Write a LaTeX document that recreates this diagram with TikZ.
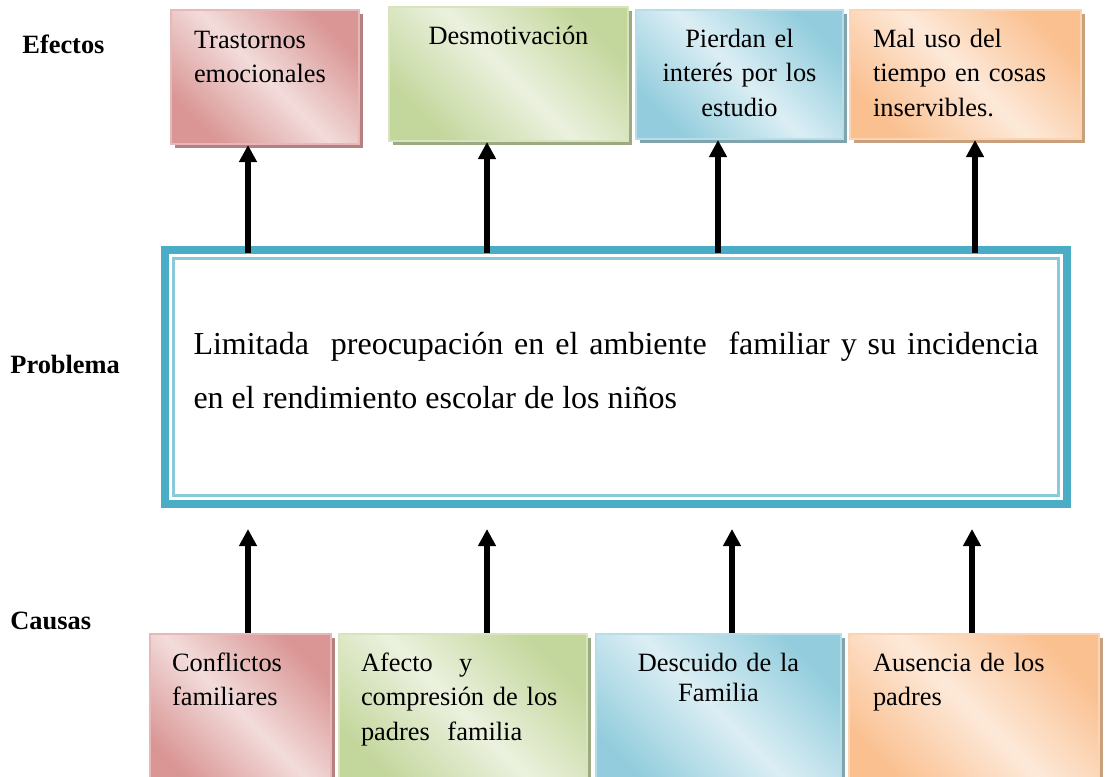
\documentclass[tikz,border=0pt]{standalone}
\usepackage{fontspec}
\setmainfont{Liberation Serif}
\usepackage{tikz}
\usetikzlibrary{arrows.meta}
\usetikzlibrary{shadows}
\usetikzlibrary{calc}

\begin{document}
\begin{tikzpicture}[x=0.5pt, y=-0.5pt,
caja/.style={rectangle, anchor=north west, inner ysep=0pt, inner xsep=11.5pt, line width=1pt, text height=18.5pt, font=\fontsize{13.2}{17.3}\selectfont},
titulo/.style={anchor=base west, inner sep=0pt, font=\fontsize{13.2}{16}\selectfont\bfseries},
flecha/.style={-{Triangle[width=8.5pt, length=8.5pt]}, line width=3.2pt},
sombra/.style={drop shadow={shadow xshift=2.2pt, shadow yshift=-2.2pt, fill=#1, opacity=1}},
rojo/.style={top color=rojoD, bottom color=rojoD, middle color=rojoL, shading angle=-45, draw=rojoB, sombra=rojoS},
verde/.style={top color=verdeD, bottom color=verdeD, middle color=verdeL, shading angle=-45, draw=verdeB, sombra=verdeS},
azul/.style={top color=azulD, bottom color=azulD, middle color=azulL, shading angle=-45, draw=azulB, sombra=azulS},
naranja/.style={top color=naranjaD, bottom color=naranjaD, middle color=naranjaL, shading angle=-45, draw=naranjaB, sombra=naranjaS}]

    \definecolor{rojoD}{HTML}{D99694}
    \definecolor{rojoL}{HTML}{F2DCDB}
    \definecolor{rojoB}{HTML}{E6B9B8}
    \definecolor{rojoS}{HTML}{B58180}
    \definecolor{verdeD}{HTML}{C3D69B}
    \definecolor{verdeL}{HTML}{EBF1DE}
    \definecolor{verdeB}{HTML}{D7E4BD}
    \definecolor{verdeS}{HTML}{9BAA80}
    \definecolor{azulD}{HTML}{93CDDD}
    \definecolor{azulL}{HTML}{DBEEF4}
    \definecolor{azulB}{HTML}{B7DEE8}
    \definecolor{azulS}{HTML}{7FA4AE}
    \definecolor{naranjaD}{HTML}{FAC090}
    \definecolor{naranjaL}{HTML}{FDE9D9}
    \definecolor{naranjaB}{HTML}{FBD4B4}
    \definecolor{naranjaS}{HTML}{C9A07E}
    \definecolor{aqua}{HTML}{4BACC6}

    \useasboundingbox (0,0) rectangle (1106,776);
    \clip (0,0) rectangle (1106,776);

	\node[titulo] (efectos) at (22,53) {Efectos};
	\node[titulo] (problema) at (10,373) {Problema};
	\node[titulo] (causas) at (10,629) {Causas};

	% efectos
	\node[caja, rojo, text width=71pt, text height=19pt, text depth=48pt, align=left] (e1) at (170,9) {Trastornos\\emocionales};
	\node[caja, verde, text width=96.5pt, text depth=48.5pt, align=center] (e2) at (388,6) {Desmotivación};
	\node[caja, azul, text width=80.5pt, text depth=46pt, align=center] (e3) at (635,9) {Pierdan el\\interés por los\\estudio};
	\node[caja, naranja, text width=92.5pt, text depth=46pt, align=left] (e4) at (849,9) {Mal uso del\\tiempo en cosas\\inservibles.};

	% problema
	\node[draw=aqua, line width=4pt, outer sep=0pt, inner sep=0pt, minimum width=451pt, minimum height=127pt, text width=422.5pt, align=justify, text height=12pt, text depth=35pt, font=\fontsize{16}{27}\selectfont] (prob) at (616,377) {Limitada\ \ preocupación en el ambiente\ \ familiar y su incidencia\linebreak en el rendimiento escolar de los niños};
	\draw[aqua!65, line width=1.5pt] ([shift={(8.5,8.5)}]prob.north west) rectangle ([shift={(-8.5,-8.5)}]prob.south east);

	% causas
	\node[caja, rojo, inner xsep=11pt, text width=68.5pt, text depth=60pt, align=left] (c1) at (149,633) {Conflictos\\familiares};
	\node[caja, verde, inner xsep=11pt, text width=102pt, text depth=60pt, align=left] (c2) at (338,633) {Afecto\ \ \ y\\compresión de los\\padres\ \ familia};
	\node[caja, azul, inner xsep=11pt, text width=100.5pt, text depth=60pt, align=center, font=\fontsize{13.2}{15}\selectfont] (c3) at (595,633) {Descuido de la\\Familia};
	\node[caja, naranja, inner xsep=12pt, text width=101pt, text depth=60pt, align=left] (c4) at (848,633) {Ausencia de los\\padres};

	\coordinate (ae1) at (248,0);
	\coordinate (ae2) at (487,0);
	\coordinate (ae3) at (718,0);
	\coordinate (ae4) at (975,0);
	\coordinate (ac1) at (248,0);
	\coordinate (ac2) at (487,0);
	\coordinate (ac3) at (732,0);
	\coordinate (ac4) at (972,0);

	\draw (prob.north -| ae1) edge [flecha, shorten <=-1.5pt] (e1.south -| ae1);
	\draw (prob.north -| ae2) edge [flecha, shorten <=-1.5pt] (e2.south -| ae2);
	\draw (prob.north -| ae3) edge [flecha, shorten <=-1.5pt] (e3.south -| ae3);
	\draw (prob.north -| ae4) edge [flecha, shorten <=-1.5pt] (e4.south -| ae4);
	\draw (c1.north -| ac1) edge [flecha, shorten >=12.5pt] (prob.south -| ac1);
	\draw (c2.north -| ac2) edge [flecha, shorten >=12.5pt] (prob.south -| ac2);
	\draw (c3.north -| ac3) edge [flecha, shorten >=12.5pt] (prob.south -| ac3);
	\draw (c4.north -| ac4) edge [flecha, shorten >=12.5pt] (prob.south -| ac4);
\end{tikzpicture}
\end{document}
